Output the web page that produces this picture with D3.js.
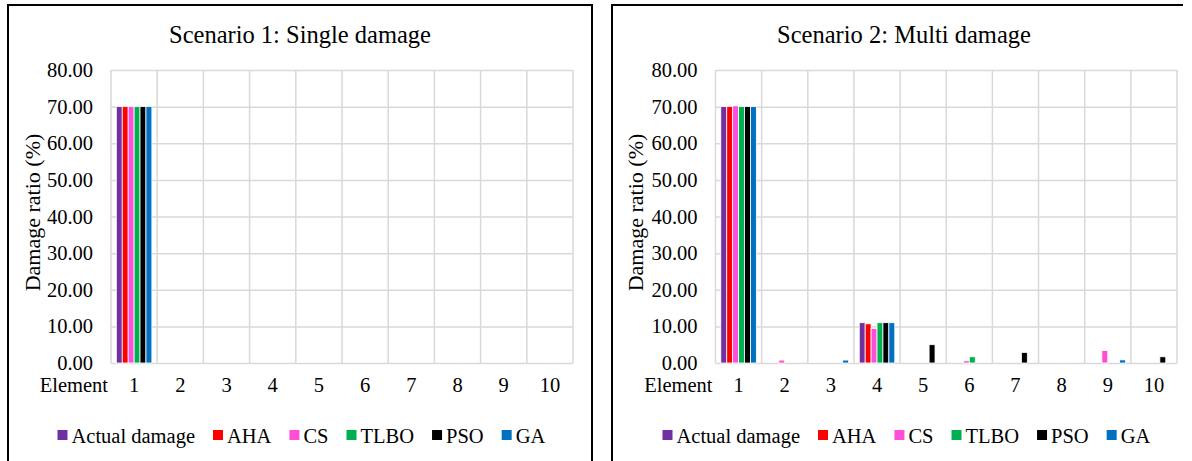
<!DOCTYPE html>
<html>
<head>
<meta charset="utf-8">
<script src="https://cdn.jsdelivr.net/npm/d3@7"></script>
<style>
  html, body { margin: 0; padding: 0; background: #fff; }
  svg { display: block; }
  text { font-family: "Liberation Serif", "Times New Roman", serif; fill: #000; }
</style>
</head>
<body>
<svg id="chart" width="1192" height="461"></svg>
<script>
// Element numbers along the x axis
const elements = ["1", "2", "3", "4", "5", "6", "7", "8", "9", "10"];
// Methods compared in each panel
const seriesNames = ["Actual damage", "AHA", "CS", "TLBO", "PSO", "GA"];
const seriesColors = ["#7030A0", "#FF0000", "#FF4FD8", "#00B050", "#000000", "#0070C0"];
const yTicks = [0, 10, 20, 30, 40, 50, 60, 70, 80];

// Scenario 1: damage ratio (%) per element, one array per method
const s1Actual = [70, 0, 0, 0, 0, 0, 0, 0, 0, 0];
const s1AHA    = [70, 0, 0, 0, 0, 0, 0, 0, 0, 0];
const s1CS     = [70, 0, 0, 0, 0, 0, 0, 0, 0, 0];
const s1TLBO   = [70, 0, 0, 0, 0, 0, 0, 0, 0, 0];
const s1PSO    = [70, 0, 0, 0, 0, 0, 0, 0, 0, 0];
const s1GA     = [70, 0, 0, 0, 0, 0, 0, 0, 0, 0];

// Scenario 2: damage ratio (%) per element, one array per method
const s2Actual = [70, 0, 0, 11.0, 0, 0, 0, 0, 0, 0];
const s2AHA    = [70, 0, 0, 10.7, 0, 0, 0, 0, 0, 0];
const s2CS     = [70.2, 0.8, 0, 9.4, 0, 0.6, 0, 0, 3.4, 0];
const s2TLBO   = [70, 0, 0, 11.0, 0, 1.7, 0, 0, 0, 0];
const s2PSO    = [70, 0, 0, 11.0, 5.0, 0, 2.9, 0, 0, 1.7];
const s2GA     = [70, 0, 0.8, 11.0, 0, 0, 0, 0, 0.85, 0];

const panels = [
  { title: "Scenario 1: Single damage", series: [s1Actual, s1AHA, s1CS, s1TLBO, s1PSO, s1GA],
    frame: { x: 8, y: 5, w: 584, closedRight: true },
    plot: { left: 111, right: 573 }, legendX: 57.5, yTitleX: 40 },
  { title: "Scenario 2: Multi damage", series: [s2Actual, s2AHA, s2CS, s2TLBO, s2PSO, s2GA],
    frame: { x: 612, y: 5, w: 571, closedRight: false },
    plot: { left: 715.5, right: 1177 }, legendX: 662.5, yTitleX: 643 }
];

const svg = d3.select("#chart");
const plotTop = 70, plotBottom = 363;
const gridColor = "#d9d9d9";
const serif = '"Liberation Serif", "Times New Roman", serif';

panels.forEach(p => {
  const g = svg.append("g");

  // panel frame (runs past the bottom edge)
  const f = p.frame;
  const framePath = d3.path();
  framePath.moveTo(f.x, 470);
  framePath.lineTo(f.x, f.y);
  framePath.lineTo(f.x + f.w, f.y);
  if (f.closedRight) framePath.lineTo(f.x + f.w, 470);
  g.append("path").attr("d", framePath.toString())
    .attr("fill", "none").attr("stroke", "#000").attr("stroke-width", 2);

  const x = d3.scaleBand().domain(elements)
    .range([p.plot.left, p.plot.right])
    .paddingInner(0.23).paddingOuter(0.115);
  const xs = d3.scaleBand().domain(seriesNames).range([0, x.bandwidth()]).padding(0);
  const y = d3.scaleLinear().domain([0, 80]).range([plotBottom, plotTop]);

  // horizontal gridlines + value labels
  const yAxis = d3.axisLeft(y).tickValues(yTicks).tickSize(-(p.plot.right - p.plot.left))
    .tickPadding(18).tickFormat(d3.format(".2f"));
  const ya = g.append("g").attr("transform", `translate(${p.plot.left},0)`).call(yAxis)
    .attr("font-family", serif).attr("font-size", 20.5);
  ya.select(".domain").remove();
  ya.selectAll(".tick line").attr("stroke", gridColor).attr("stroke-width", 1.5);
  ya.selectAll(".tick text").attr("fill", "#000");

  // vertical gridlines at category boundaries
  const bounds = elements.map(e => x(e) - x.step() * x.paddingOuter()).concat([p.plot.right]);
  g.append("g").selectAll("line").data(bounds).join("line")
    .attr("x1", d => d).attr("x2", d => d)
    .attr("y1", plotTop).attr("y2", plotBottom)
    .attr("stroke", gridColor).attr("stroke-width", 1.5);

  // category labels
  const xAxis = d3.axisBottom(x).tickSize(0).tickPadding(0);
  const xa = g.append("g").attr("transform", `translate(0,${plotBottom})`).call(xAxis)
    .attr("font-family", serif).attr("font-size", 20.5);
  xa.select(".domain").remove();
  xa.selectAll(".tick text").attr("dy", null).attr("y", 29).attr("fill", "#000");
  g.append("text").attr("x", p.plot.left - 3).attr("y", plotBottom + 29)
    .attr("text-anchor", "end").style("font-size", "20.5px").text("Element");

  // bars
  const barData = [];
  elements.forEach((e, i) => {
    seriesNames.forEach((s, j) => {
      barData.push({ e, s, color: seriesColors[j], v: p.series[j][i] });
    });
  });
  g.append("g").selectAll("rect").data(barData.filter(d => d.v > 0)).join("rect")
    .attr("x", d => x(d.e) + xs(d.s))
    .attr("width", xs.bandwidth())
    .attr("y", d => y(d.v))
    .attr("height", d => y(0) - y(d.v))
    .attr("fill", d => d.color)
    .attr("stroke", "#fff").attr("stroke-width", 0.8);

  // title
  g.append("text").attr("x", (f.x + f.x + 584) / 2).attr("y", 43)
    .attr("text-anchor", "middle").style("font-size", "24.5px").text(p.title);

  // y-axis title
  g.append("text")
    .attr("transform", `translate(${p.yTitleX},${(plotTop + plotBottom) / 2 - 4}) rotate(-90)`)
    .attr("text-anchor", "middle").style("font-size", "22px").text("Damage ratio (%)");

  // legend
  const lg = g.append("g").attr("transform", `translate(${p.legendX},0)`);
  let cx = 0;
  seriesNames.forEach((s, j) => {
    lg.append("rect").attr("x", cx).attr("y", 430).attr("width", 10).attr("height", 10)
      .attr("fill", seriesColors[j]);
    const t = lg.append("text").attr("x", cx + 14).attr("y", 443)
      .style("font-size", "20.5px").text(s);
    cx += 14 + t.node().getComputedTextLength() + 18;
  });
});
</script>
</body>
</html>
